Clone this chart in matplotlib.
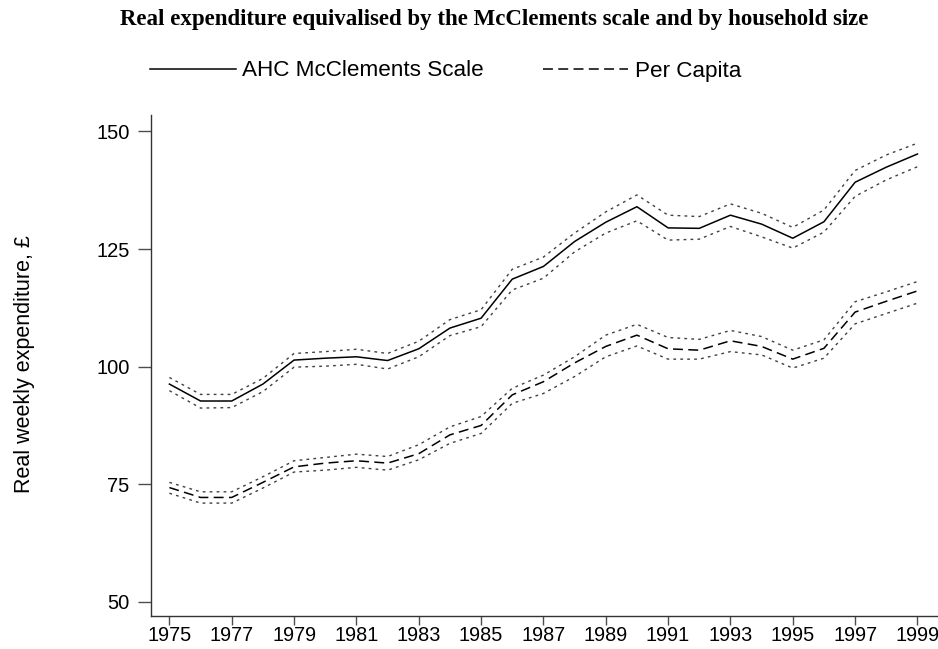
# Real expenditure: McClements scale vs per capita

import matplotlib
matplotlib.use('Agg')
import matplotlib.pyplot as plt

# Data
years = list(range(1975, 2000))
ahc = [96.3, 92.7, 92.7, 96.3, 101.4, 101.8, 102.1, 101.3, 103.8, 108.2, 110.3, 118.6, 121.3,
       126.6, 130.7, 134.0, 129.5, 129.4, 132.2, 130.3, 127.3, 130.8, 139.2, 142.4, 145.2]
ahc_hi = [97.7, 94.1, 94.1, 97.5, 102.8, 103.2, 103.7, 102.8, 105.4, 110.0, 112.1, 120.7, 123.3,
          128.4, 132.9, 136.5, 132.2, 131.9, 134.6, 132.6, 129.6, 133.3, 141.7, 145.0, 147.5]
ahc_lo = [94.9, 91.2, 91.3, 94.7, 99.9, 100.1, 100.5, 99.5, 102.1, 106.6, 108.5, 116.3, 118.8,
          124.4, 128.4, 131.0, 126.9, 127.1, 129.8, 127.6, 125.2, 128.6, 136.2, 139.7, 142.5]
pc = [74.3, 72.2, 72.2, 75.4, 78.7, 79.5, 80.0, 79.5, 81.5, 85.5, 87.5, 94.0, 96.8,
      100.8, 104.3, 106.7, 103.8, 103.5, 105.5, 104.3, 101.6, 103.9, 111.6, 113.9, 116.1]
pc_hi = [75.4, 73.4, 73.4, 76.6, 80.0, 80.7, 81.4, 80.9, 83.4, 87.2, 89.4, 95.4, 98.2,
         102.1, 106.7, 109.0, 106.2, 105.8, 107.7, 106.4, 103.5, 105.7, 113.8, 115.9, 118.1]
pc_lo = [73.1, 71.0, 71.0, 74.2, 77.6, 78.0, 78.6, 78.0, 80.2, 83.7, 85.8, 92.2, 94.3,
         97.9, 102.1, 104.4, 101.6, 101.6, 103.2, 102.5, 99.7, 101.8, 109.1, 111.3, 113.5]
xticks = list(range(1975, 2000, 2))
yticks = [50, 75, 100, 125, 150]

plt.rcParams['font.family'] = ['Liberation Sans', 'DejaVu Sans']

fig = plt.figure(figsize=(9.38, 6.49), dpi=100)
# axes box in pixels: left 151, bottom spine ~616, top 114.5
ax = fig.add_axes([151 / 938, 1 - 616 / 649, 1 - 151 / 938, (616 - 114.5) / 649])

dotted = (0, (2, 3))
dashed = (0, (6.5, 3.5))
ax.plot(years, ahc_hi, color='0.25', lw=1, linestyle=dotted)
ax.plot(years, ahc_lo, color='0.25', lw=1, linestyle=dotted)
ax.plot(years, pc_hi, color='0.25', lw=1, linestyle=dotted)
ax.plot(years, pc_lo, color='0.25', lw=1, linestyle=dotted)
l1, = ax.plot(years, ahc, color='black', lw=1.1, label='AHC McClements Scale')
l2, = ax.plot(years, pc, color='black', lw=1.1, linestyle=dashed, label='Per Capita')

ax.set_xlim(1974.41, 1999.66)
ax.set_ylim(47.0, 153.6)
ax.set_xticks(xticks)
ax.set_yticks(yticks)
ax.tick_params(axis='x', length=6.5, width=1, pad=1, labelsize=14.3, color='0.3')
ax.tick_params(axis='y', length=9.5, width=1, pad=6, labelsize=14.5, color='0.3')
for s in ['top', 'right']:
    ax.spines[s].set_visible(False)
for s in ['left', 'bottom']:
    ax.spines[s].set_color('0.2')
    ax.spines[s].set_linewidth(1)

fig.text(25 / 938, 1 - 364.5 / 649, 'Real weekly expenditure, £', rotation=90,
         ha='center', va='center', fontsize=15.5)
fig.text(494 / 938, 1 - 20 / 649,
         'Real expenditure equivalised by the McClements scale and by household size',
         ha='center', va='center', fontsize=16.5, fontweight='bold', family='Liberation Serif')

fig.legend(handles=[l1, l2], loc='center left', bbox_to_anchor=(150 / 938, 1 - 71 / 649),
           ncol=2, frameon=False, fontsize=16.2, handlelength=3.8, handletextpad=0.3,
           columnspacing=2.6, borderpad=0, borderaxespad=0)

fig.savefig('out.png', dpi=100)
